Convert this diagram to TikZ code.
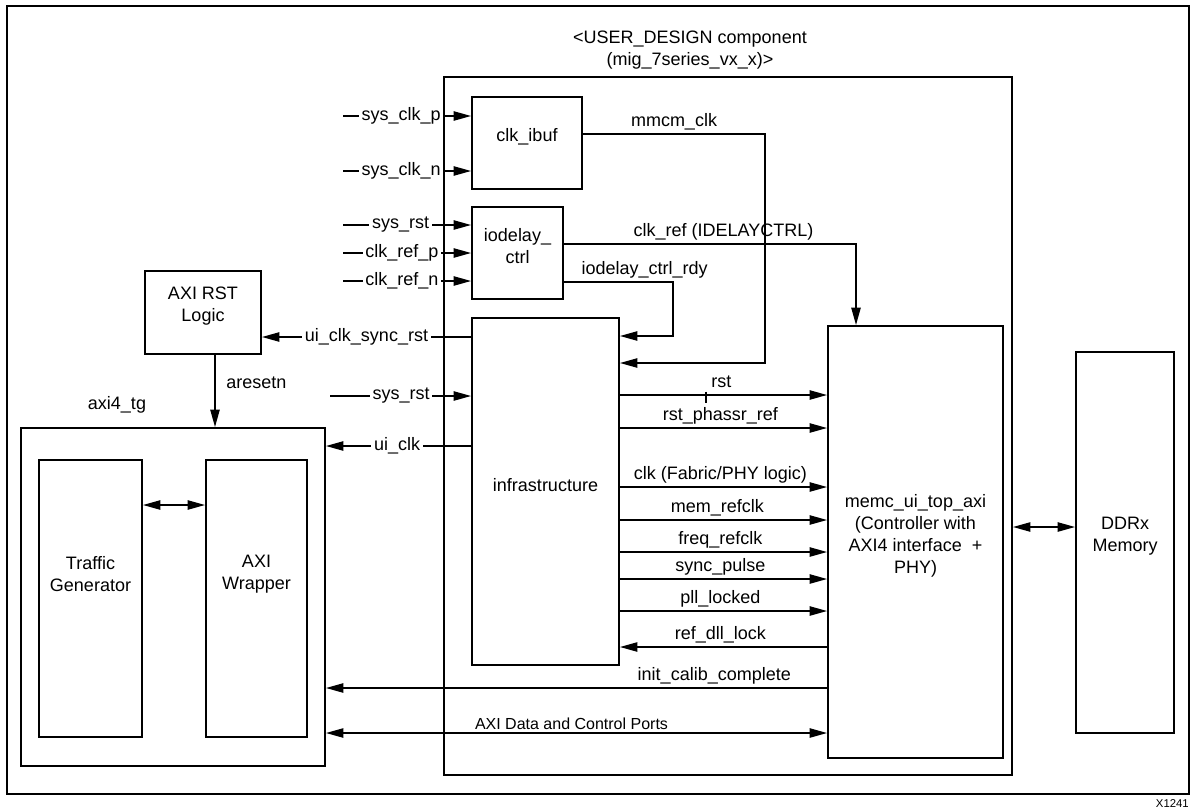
\documentclass[tikz,border=0pt]{standalone}
\usepackage{fontspec}
\setmainfont{Liberation Sans}
\usetikzlibrary{arrows.meta,fit,calc}
\begin{document}
\begin{tikzpicture}[x=0.75pt,y=-0.75pt,
  box/.style={draw, line width=1.5pt, inner sep=0pt, align=center},
  sig/.style={line width=1pt},
  tip/.style={},
  arr/.style={sig, -{Triangle[length=13pt,width=7pt]}},
  darr/.style={sig, {Triangle[length=13pt,width=7pt]}-{Triangle[length=13pt,width=7pt]}},
  lab/.style={anchor=base, yshift=5.5pt, inner sep=0pt},
  wlab/.style={fill=white, inner sep=2pt},
  txt/.style={align=center, inner sep=0pt},
  font=\fontsize{13.5}{16.5}\selectfont]

\useasboundingbox (0,0) rectangle (1198,810);

% frames and boxes
\node[box, line width=1.3pt, fit={(7,6)(1189,794)}] (frame) {};
\node[box, fit={(444,77)(1012,775)}] (ud) {};
\node[txt] (title) at (690,50) {<USER\_DESIGN component\\(mig\_7series\_vx\_x)>};

\node[box, fit={(472,97)(582,189)}] (clkibuf) {clk\_ibuf};
\node[box, fit={(472,207)(563,299)}] (iodelay) {iodelay\_\\ctrl};
\node[box, fit={(472,318)(619,665)}] (infra) {infrastructure};
\node[box, fit={(828,326)(1003,758)}] (memc) {memc\_ui\_top\_axi\\(Controller with\\AXI4 interface~~+\\PHY)};
\node[box, fit={(1076,352)(1174,733)}] (ddr) {DDRx\\Memory};
\node[box, fit={(145,271)(261,354)}] (axirst) {AXI RST\\Logic};
\node[box, fit={(21,428)(325,766)}] (tg) {};
\node[txt] (tglab) at (117,405) {axi4\_tg};
\node[box, fit={(39,460)(142,737)}] (traffic) {};
\node[txt] (traffictxt) at (traffic.center |- 0,574) {Traffic\\Generator};
\node[box, fit={(206,460)(307,737)}] (wrapper) {};
\node[txt] (wrappertxt) at (wrapper.center |- 0,574) {AXI\\Wrapper};
\node[txt, anchor=east, font=\fontsize{8.5}{10}\selectfont] (xid) at (1189,804) {X1241};

% input coordinates
\coordinate (in1) at (343,116);
\coordinate (in2) at (343,171);
\coordinate (in3) at (343,225);
\coordinate (in4) at (343,253);
\coordinate (in5) at (343,281);
\coordinate (in6) at (330,396);

\draw[arr] (in1) -- (clkibuf.west |- in1) node[wlab, pos=0.455] {sys\_clk\_p};
\draw[arr] (in2) -- (clkibuf.west |- in2) node[wlab, pos=0.455] {sys\_clk\_n};
\draw[arr] (in3) -- (iodelay.west |- in3) node[wlab, pos=0.45] {sys\_rst};
\draw[arr] (in4) -- (iodelay.west |- in4) node[wlab, pos=0.46] {clk\_ref\_p};
\draw[arr] (in5) -- (iodelay.west |- in5) node[wlab, pos=0.46] {clk\_ref\_n};
\draw[arr] (in6) -- (infra.west |- in6) node[wlab, pos=0.505] {sys\_rst};

\draw[arr] (infra.west |- 0,337) -- (axirst.east |- 0,337) node[wlab, pos=0.5] {ui\_clk\_sync\_rst};
\draw[arr] (infra.west |- 0,446) -- (tg.east |- 0,446) node[wlab, pos=0.51] {ui\_clk};
\draw[arr] (axirst.south -| 215,0) -- (tg.north -| 215,0) node[anchor=west, inner sep=0pt, pos=0.38, xshift=8pt] {aresetn};

% clock / ready feedback
\draw[arr] (clkibuf.east |- 0,134) -- node[lab] {mmcm\_clk} (765,134) -- (765,363) -- (infra.east |- 0,363);
\draw[arr] (iodelay.east |- 0,244) -- node[lab, pos=0.546] {clk\_ref (IDELAYCTRL)} (856,244) -- (memc.north -| 856,0);
\draw[arr] (iodelay.east |- 0,282) -- node[lab, pos=0.74] {iodelay\_ctrl\_rdy} (673,282) -- (673,336) -- (infra.east |- 0,336);

% infrastructure -> memc
\draw[arr] (infra.east |- 0,395) -- coordinate[pos=0.416] (tk) node[lab, pos=0.49] {rst} (memc.west |- 0,395);
\draw[sig] ([yshift=2.5pt]tk) -- ([yshift=-6pt]tk);
\draw[arr] (infra.east |- 0,428) -- node[lab, pos=0.485] {rst\_phassr\_ref} (memc.west |- 0,428);
\draw[arr] (infra.east |- 0,487) -- node[lab, pos=0.485] {clk (Fabric/PHY logic)} (memc.west |- 0,487);
\draw[arr] (infra.east |- 0,520) -- node[lab, pos=0.47] {mem\_refclk} (memc.west |- 0,520);
\draw[arr] (infra.east |- 0,552) -- node[lab, pos=0.485] {freq\_refclk} (memc.west |- 0,552);
\draw[arr] (infra.east |- 0,579) -- node[lab, pos=0.485] {sync\_pulse} (memc.west |- 0,579);
\draw[arr] (infra.east |- 0,611) -- node[lab, pos=0.485] {pll\_locked} (memc.west |- 0,611);
\draw[arr] (memc.west |- 0,647) -- node[lab, pos=0.515] {ref\_dll\_lock} (infra.east |- 0,647);

% memc -> axi4_tg
\draw[arr] (memc.west |- 0,688) -- node[lab, pos=0.225] {init\_calib\_complete} (tg.east |- 0,688);
\draw[darr] (tg.east |- 0,733) -- node[lab, yshift=-2.5pt, pos=0.49, font=\fontsize{12}{14}\selectfont] {AXI Data and Control Ports} (memc.west |- 0,733);

% other double arrows
\draw[darr] (ud.east |- 0,527) -- (ddr.west |- 0,527);
\draw[darr] (traffic.east |- 0,505) -- (wrapper.west |- 0,505);
\end{tikzpicture}
\end{document}
